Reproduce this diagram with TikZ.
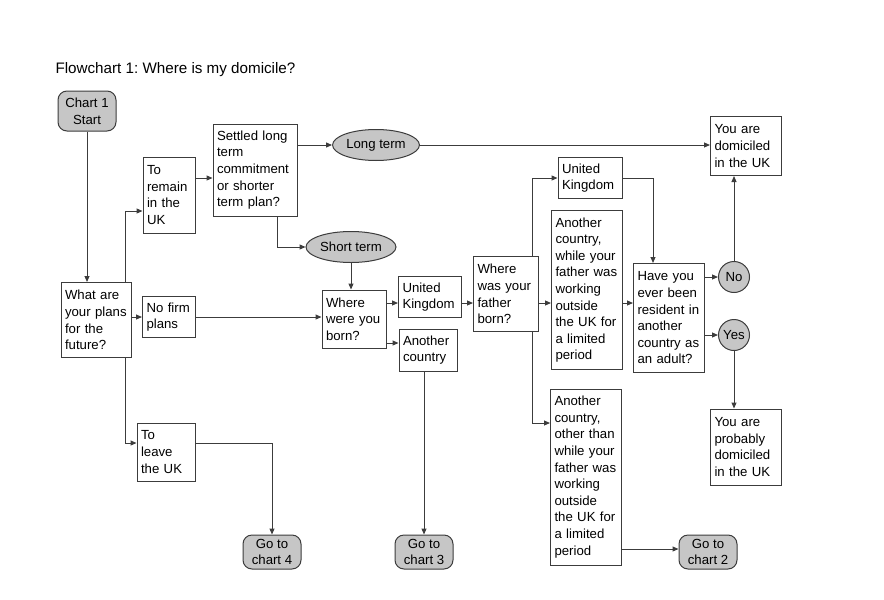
\documentclass[tikz,border=0pt]{standalone}
\usepackage{fontspec}
\setmainfont{Liberation Sans}
\usetikzlibrary{arrows.meta,shapes.geometric}
\definecolor{chartgray}{RGB}{198,198,198}
\definecolor{linegray}{RGB}{60,60,60}
\frenchspacing

\begin{document}
\begin{tikzpicture}[x=1pt,y=-1pt,
		base/.style={draw=linegray, line width=1pt, font=\fontsize{13.2}{16.6}\selectfont},
		box/.style={base, rectangle, fill=white, inner sep=4pt, align=left},
		term/.style={base, rectangle, rounded corners=9pt, fill=chartgray, align=center, inner sep=2pt, minimum width=58pt, minimum height=34pt},
		oval/.style={base, ellipse, fill=chartgray, inner sep=1pt, minimum width=71pt, minimum height=31pt},
		answer/.style={base, circle, fill=chartgray, inner sep=0pt, minimum size=31pt},
		flow/.style={draw=linegray, line width=1pt, -{Triangle[length=6pt,width=5pt]}},
		link/.style={draw=linegray, line width=1pt}]
		\useasboundingbox (0,0) rectangle (884,600);
		
		\node[anchor=west, font=\fontsize{15.2}{18}\selectfont] (title) at (52,70) {Flowchart 1: Where is my domicile?};
		
		% left column
		\node[term, minimum height=40pt] (start) at (87,111) {Chart 1\\Start};
		\node[box, text width=62pt, minimum height=75pt] (plans) at (96,320) {What are\\your plans\\for the\\future?};
		\node[box, text width=44pt, minimum height=76pt] (remain) at (169,195) {To\\remain\\in the\\UK};
		\node[box, text width=45pt, minimum height=41pt] (nofirm) at (169,317) {No firm\\plans};
		\node[box, text width=50pt, minimum height=58pt] (leave) at (166,452) {To\\leave\\the UK};
		
		% middle
		\node[box, text width=76pt, minimum height=92pt] (settled) at (255,170) {Settled long\\term\\commitment\\or shorter\\term plan?};
		\node[oval] (longterm) at (376,145) {Long term};
		\node[oval] (shortterm) at (351,247) {Short term};
		\node[box, text width=56pt, minimum height=58pt] (born) at (354,319) {Where\\were you\\born?};
		\node[box, text width=55pt, minimum height=41pt] (ukone) at (430,297) {United\\Kingdom};
		\node[box, text width=50pt, minimum height=42pt] (otherone) at (428,350) {Another\\country};
		\node[box, text width=57pt, minimum height=75pt] (father) at (506,294) {Where\\was your\\father\\born?};
		
		% right
		\node[box, text width=56pt, minimum height=41pt] (uktwo) at (590,178) {United\\Kingdom};
		\node[box, text width=63pt, minimum height=159pt] (whilework) at (587,290) {Another\\country,\\while your\\father was\\working\\outside\\the UK for\\a limited\\period};
		\node[box, text width=63pt, minimum height=176pt] (otherthan) at (586,477) {Another\\country,\\other than\\while your\\father was\\working\\outside\\the UK for\\a limited\\period};
		\node[box, text width=63pt, minimum height=109pt] (resident) at (669,318) {Have you\\ever been\\resident in\\another\\country as\\an adult?};
		\node[answer] (no) at (734,277) {No};
		\node[answer] (yes) at (734,335) {Yes};
		\node[box, text width=63pt, minimum height=59pt] (domiciled) at (746,146) {You are\\domiciled\\in the UK};
		\node[box, text width=63pt, minimum height=76pt] (probably) at (746,447) {You are\\probably\\domiciled\\in the UK};
		
		% exits
		\node[term] (chartfour) at (272,552) {Go to\\chart 4};
		\node[term] (chartthree) at (424,552) {Go to\\chart 3};
		\node[term] (charttwo) at (708,552) {Go to\\chart 2};
		
		% connectors
		\draw[flow] (start.south) -- (start.south |- plans.north);
		\draw[flow] ([xshift=29pt]plans.north) |- ([yshift=-16pt]remain.west);
		\draw[flow] ([xshift=29pt]plans.south) |- ([yshift=9pt]leave.west);
		\draw[flow] (plans.east |- nofirm.west) -- (nofirm.west);
		\draw[flow] (nofirm.east) -- (nofirm.east -| born.west);
		\draw[flow] ([yshift=17pt]remain.east) -- ([yshift=17pt]remain.east -| settled.west);
		\draw[flow] (settled.east |- longterm.west) -- (longterm.west);
		\draw[flow] (longterm.east) -- (longterm.east -| domiciled.west);
		\draw[flow] ([xshift=22pt]settled.south) |- (shortterm.west);
		\draw[flow] (shortterm.south) -- (shortterm.south |- born.north);
		\draw[flow] ([yshift=16pt]born.east) -- ([yshift=16pt]born.east -| ukone.west);
		\draw[flow] ([yshift=-24pt]born.east) -- ([yshift=-24pt]born.east -| otherone.west);
		\draw[flow] ([yshift=-6pt]ukone.east) -- ([yshift=-6pt]ukone.east -| father.west);
		\draw[flow] (otherone.south -| chartthree.north) -- (chartthree.north);
		\draw[flow] ([xshift=26pt]father.north) |- (uktwo.west);
		\draw[flow] ([xshift=26pt]father.south) |- ([yshift=54pt]otherthan.west);
		\draw[flow] ([yshift=-9pt]father.east) -- ([yshift=-9pt]father.east -| whilework.west);
		\draw[flow] ([yshift=-13pt]whilework.east) -- ([yshift=-13pt]whilework.east -| resident.west);
		\draw[flow] (uktwo.east) -| ([xshift=-16pt]resident.north);
		\draw[flow] (resident.east |- no) -- (no);
		\draw[flow] (resident.east |- yes) -- (yes);
		\draw[flow] (no.north) -- (no.north |- domiciled.south);
		\draw[flow] (yes.south) -- (yes.south |- probably.north);
		\draw[flow] ([yshift=-72pt]otherthan.east) -- ([yshift=-72pt]otherthan.east -| charttwo.west);
		\draw[flow] ([yshift=9pt]leave.east) -| (chartfour.north);
	\end{tikzpicture}
\end{document}
